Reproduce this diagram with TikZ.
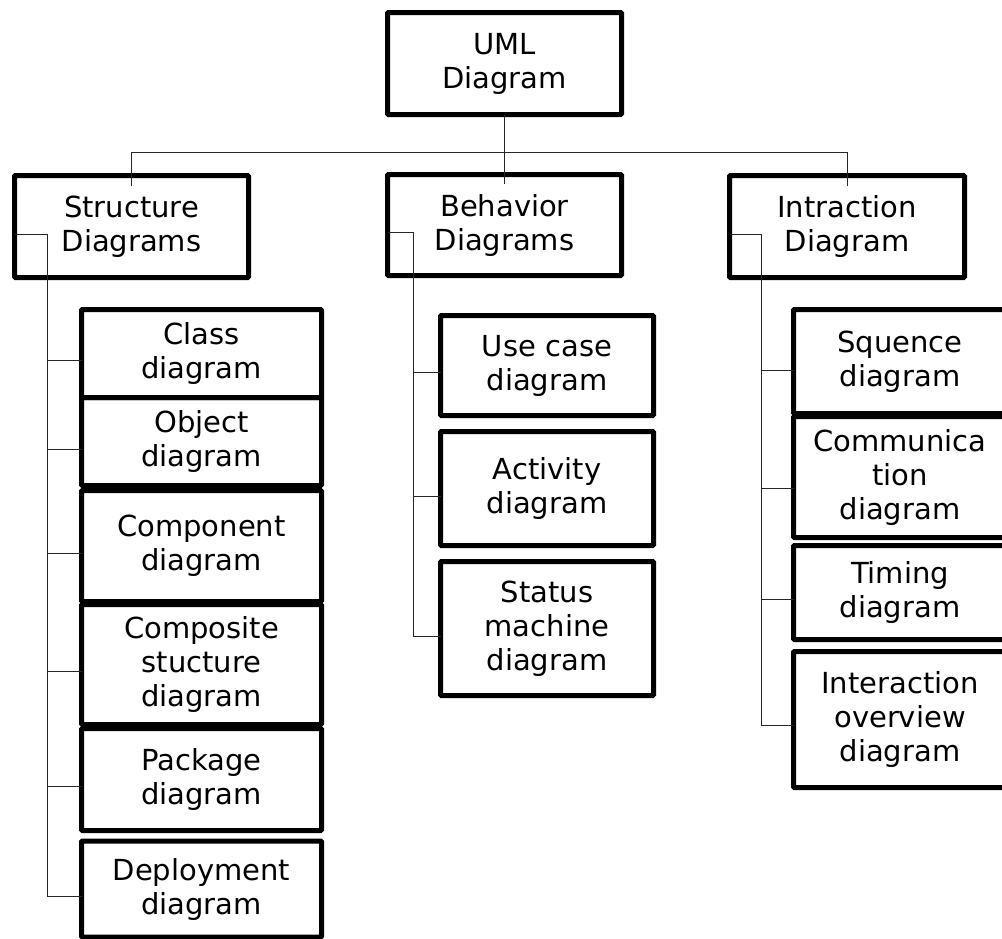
\documentclass[tikz,border=0pt]{standalone}
\usepackage{fontspec}
\setmainfont{DejaVu Sans}
\usetikzlibrary{calc}
\tikzset{
  box/.style={draw=black, line width=5pt, rounded corners=1pt, inner sep=0pt, outer sep=0pt,
    align=center, font=\fontsize{29}{34}\selectfont},
  conn/.style={draw=black!85, line width=1pt},
}
\begin{document}
\begin{tikzpicture}[x=1pt,y=-1pt]
\clip (0,0) rectangle (1002,938);
\fill[white] (0,0) rectangle (1002,938);

% root and the three categories
\node[box, minimum width=234pt, minimum height=102pt] (uml) at (504.5,63.5) {UML\\Diagram};
\node[box, minimum width=234pt, minimum height=102pt] (sd) at (131.5,226.5) {Structure\\Diagrams};
\node[box, minimum width=234pt, minimum height=101pt] (bd) at (504.5,225) {Behavior\\Diagrams};
\node[box, minimum width=235pt, minimum height=102pt] (id) at (847,226.5) {Intraction\\Diagram};

% structure diagrams
\node[box, minimum width=240pt, minimum height=88pt]  (class) at (201.5,353.5) {Class\\diagram};
\node[box, minimum width=240pt, minimum height=88pt]  (obj)   at (201.5,441.5) {Object\\diagram};
\node[box, minimum width=240pt, minimum height=111pt] (comp)  at (201.5,546) {Component\\diagram};
\node[box, minimum width=240pt, minimum height=120pt] (cstr)  at (201.5,664.5) {Composite\\stucture\\diagram};
\node[box, minimum width=240pt, minimum height=102pt] (pkg)   at (201.5,779.5) {Package\\diagram};
\node[box, minimum width=240pt, minimum height=96pt]  (dep)   at (201.5,889) {Deployment\\diagram};

% behavior diagrams
\node[box, minimum width=213pt, minimum height=100pt] (uc)  at (547,365.5) {Use case\\diagram};
\node[box, minimum width=213pt, minimum height=114pt] (act) at (547,488.5) {Activity\\diagram};
\node[box, minimum width=213pt, minimum height=134pt] (sm)  at (547,628.5) {Status\\machine\\diagram};

% interaction diagrams
\node[box, minimum width=213pt, minimum height=104pt] (seq)  at (900,361.5) {Squence\\diagram};
\node[box, minimum width=213pt, minimum height=121pt] (comm) at (900,477) {Communica\\tion\\diagram};
\node[box, minimum width=213pt, minimum height=94pt]  (tim)  at (900,592.5) {Timing\\diagram};
\node[box, minimum width=213pt, minimum height=136pt] (io)   at (900,719.5) {Interaction\\overview\\diagram};

% top level bus
\coordinate (bus) at (0,152);
\draw[conn] (uml.south) -- ($(bd.north)+(0,9)$);
\draw[conn] ($(sd.north)+(0,10)$) |- (bus -| id.north) -- ($(id.north)+(0,10)$);

% trunk x positions
\coordinate (sdx) at (47,0);
\coordinate (bdx) at (413,0);
\coordinate (idx) at (761,0);

% structure branch points
\coordinate (s1) at ($(class.west)+(0,6.5)$);
\coordinate (s2) at ($(obj.west)+(0,7.5)$);
\coordinate (s3) at ($(comp.west)+(0,7)$);
\coordinate (s4) at ($(cstr.west)+(0,6.5)$);
\coordinate (s5) at ($(pkg.west)+(0,6.5)$);
\coordinate (s6) at ($(dep.west)+(0,7)$);
\draw[conn] ($(sd.west)+(0,7.5)$) -| (s6 -| sdx) -- (s6);
\foreach \p in {s1,s2,s3,s4,s5} \draw[conn] (\p -| sdx) -- (\p);

% behavior branch points
\coordinate (b1) at ($(uc.west)+(0,6.5)$);
\coordinate (b2) at ($(act.west)+(0,7.5)$);
\coordinate (b3) at ($(sm.west)+(0,7.5)$);
\draw[conn] ($(bd.west)+(0,7)$) -| (b3 -| bdx) -- (b3);
\foreach \p in {b1,b2} \draw[conn] (\p -| bdx) -- (\p);

% interaction branch points
\coordinate (i1) at ($(seq.west)+(0,8.5)$);
\coordinate (i2) at ($(comm.west)+(0,11)$);
\coordinate (i3) at ($(tim.west)+(0,6.5)$);
\coordinate (i4) at ($(io.west)+(0,5.5)$);
\draw[conn] ($(id.west)+(0,7.5)$) -| (i4 -| idx) -- (i4);
\foreach \p in {i1,i2,i3} \draw[conn] (\p -| idx) -- (\p);
\end{tikzpicture}
\end{document}
